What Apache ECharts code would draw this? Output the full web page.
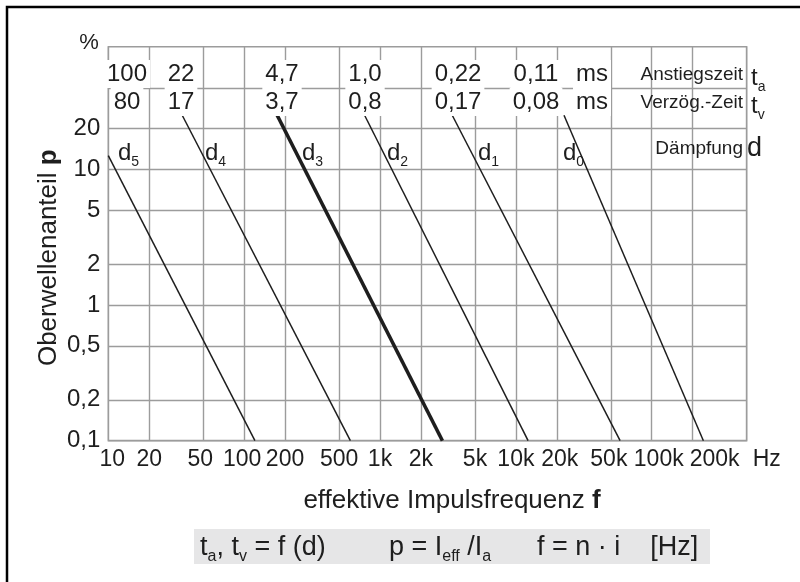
<!DOCTYPE html>
<html>
<head>
    <meta charset="utf-8">
    <title>Oberwellenanteil</title>
    <script src="https://cdn.jsdelivr.net/npm/echarts@6/dist/echarts.min.js"></script>
</head>
<body style="margin:0">
<div id="main" style="width:800px; height:582px;"></div>
<script type="text/javascript">
    // Frequenzachse (Hz) und Beschriftung
    var xTicks = [10, 20, 50, 100, 200, 500, 1000, 2000, 5000, 10000, 20000, 50000, 100000, 200000, 500000];
    var xTickLabels = ['10', '20', '50', '100', '200', '500', '1k', '2k', '5k', '10k', '20k', '50k', '100k', '200k', 'Hz'];
    // Oberwellenanteil (%)
    var yTicks = [0.1, 0.2, 0.5, 1, 2, 5, 10, 20];
    var yTickLabels = ['0,1', '0,2', '0,5', '1', '2', '5', '10', '20'];
    var yMax = 80;
    var tableRowLine = 39.5;   // Trennlinie zwischen t_a und t_v

    // Kennlinien d5 ... d0 (Anfangs- und Endpunkt, log-log Gerade)
    var d5F = [10, 120],     d5P = [12.6, 0.1];
    var d4F = [35, 605],     d4P = [25, 0.1];
    var d3F = [175, 2880],   d3P = [25, 0.1];
    var d2F = [770, 12300],  d2P = [25, 0.1];
    var d1F = [3400, 58500], d1P = [25, 0.1];
    var d0F = [22600, 240000], d0P = [25, 0.1];

    // Tabelle oben
    var riseTimes = ['100', '22', '4,7', '1,0', '0,22', '0,11', 'ms'];
    var delayTimes = ['80', '17', '3,7', '0,8', '0,17', '0,08', 'ms'];
    var dampNames = ['5', '4', '3', '2', '1', '0'];

    var FONT = '"Liberation Sans", Arial, sans-serif';
    var GRID = '#9c9c9c';
    var INK = '#1e1e1e';

    function lg(v) { return Math.log10(v); }
    function pts(f, p) {
        return f.map(function (v, i) { return [lg(v), lg(p[i])]; });
    }
    function findIdx(arr, v) {
        for (var i = 0; i < arr.length; i++) {
            if (Math.abs(lg(arr[i]) - v) < 1e-6) return i;
        }
        return -1;
    }

    // kleine Verschiebungen einzelner x-Beschriftungen (wie im Original)
    var xShift = {'10': 4, '50': -3, '100': -2, '20k': 3, '50k': -2, '100k': 7, '200k': 22, 'Hz': 20};
    function shiftKey(s) { return 's' + (s < 0 ? 'm' + (-s) : s); }
    var xRich = {};
    Object.keys(xShift).forEach(function (k) {
        var s = xShift[k];
        xRich[shiftKey(s)] = {padding: s > 0 ? [0, 0, 0, 2 * s] : [0, -2 * s, 0, 0]};
    });

    var curves = [
        {name: 'd5', f: d5F, p: d5P, w: 1.5},
        {name: 'd4', f: d4F, p: d4P, w: 1.5},
        {name: 'd3', f: d3F, p: d3P, w: 3.6},
        {name: 'd2', f: d2F, p: d2P, w: 1.5},
        {name: 'd1', f: d1F, p: d1P, w: 1.5},
        {name: 'd0', f: d0F, p: d0P, w: 1.5}
    ];

    // Texte
    var tableX = [127, 181, 282, 365, 458, 536, 592];
    var dLabelX = [118, 205, 302, 387, 478, 563];
    var graphics = [];

    graphics.push({
        type: 'rect', silent: true,
        shape: {x: 7, y: 7, width: 830, height: 630},
        style: {fill: 'none', stroke: '#000', lineWidth: 2.5}
    });
    graphics.push({
        type: 'text', x: 89, y: 43,
        style: {text: '%', font: '22px ' + FONT, fill: INK, align: 'center', verticalAlign: 'middle'}
    });

    function cell(txt, x, y) {
        return {
            type: 'text', x: x, y: y, z: 100,
            style: {
                text: txt, font: '24px ' + FONT, fill: INK,
                align: 'center', verticalAlign: 'middle',
                backgroundColor: '#fff', padding: [2, 3, 2, 3], lineHeight: 24
            }
        };
    }
    riseTimes.forEach(function (t, i) { graphics.push(cell(t, tableX[i], 74)); });
    delayTimes.forEach(function (t, i) { graphics.push(cell(t, tableX[i], 102)); });

    var subRich = {
        m: {fontSize: 24, lineHeight: 32, fontFamily: FONT, fill: INK, verticalAlign: 'middle'},
        b: {fontSize: 27, lineHeight: 32, fontFamily: FONT, fill: INK, verticalAlign: 'middle'},
        s: {fontSize: 14, lineHeight: 14, fontFamily: FONT, fill: INK, verticalAlign: 'bottom'}
    };
    function label(x, y, txt, align, font) {
        return {
            type: 'text', x: x, y: y, z: 100,
            style: {text: txt, font: font || ('19px ' + FONT), fill: INK, align: align || 'left', verticalAlign: 'middle', rich: subRich}
        };
    }
    graphics.push(label(743, 75, 'Anstiegszeit', 'right'));
    graphics.push(label(743, 103, 'Verzög.-Zeit', 'right'));
    graphics.push(label(743, 149, 'Dämpfung', 'right'));
    graphics.push(label(751, 78, '{m|t}{s|a}'));
    graphics.push(label(751, 106, '{m|t}{s|v}'));
    graphics.push(label(747, 149, '{b|d}'));
    dampNames.forEach(function (n, i) {
        graphics.push(label(dLabelX[i], 153, '{m|d}{s|' + n + '}'));
    });

    // Formelkasten
    graphics.push({
        type: 'rect', silent: true,
        shape: {x: 194, y: 529, width: 516, height: 35},
        style: {fill: '#e6e6e7'}
    });
    var fRich = {
        m: {fontSize: 27, lineHeight: 34, fontFamily: FONT, fill: INK, verticalAlign: 'middle'},
        s: {fontSize: 16, lineHeight: 16, fontFamily: FONT, fill: INK, verticalAlign: 'bottom'}
    };
    [
        [200, '{m|t}{s|a}{m|, t}{s|v}{m| = f (d)}'],
        [389, '{m|p = I}{s|eff}{m| /I}{s|a}'],
        [537, '{m|f = n · i    [Hz]}']
    ].forEach(function (f) {
        graphics.push({
            type: 'text', x: f[0], y: 548, z: 100,
            style: {text: f[1], fill: INK, align: 'left', verticalAlign: 'middle', rich: fRich}
        });
    });

    var myChart = echarts.init(document.getElementById('main'));
    var option = {
        animation: false,
        backgroundColor: '#fff',
        grid: {
            left: 108.3, right: 53.3, top: 46.7, bottom: 141.3,
            show: true, borderColor: GRID, borderWidth: 1.4
        },
        xAxis: {
            type: 'value',
            min: lg(xTicks[0]),
            max: lg(xTicks[xTicks.length - 1]),
            name: 'effektive Impulsfrequenz {b|f}',
            nameLocation: 'middle',
            nameGap: 47,
            nameMoveOverlap: false,
            nameTextStyle: {
                fontFamily: FONT, fontSize: 26, color: INK, padding: [0, 0, 0, 49],
                rich: {b: {fontFamily: FONT, fontSize: 26, fontWeight: 'bold', color: INK}}
            },
            axisLine: {show: false},
            axisTick: {show: false, customValues: xTicks.map(lg)},
            splitLine: {show: true, lineStyle: {color: GRID, width: 1.4}},
            axisLabel: {
                customValues: xTicks.map(lg),
                margin: 7,
                fontFamily: FONT, fontSize: 23, color: INK,
                rich: xRich,
                formatter: function (v) {
                    var i = findIdx(xTicks, v);
                    if (i < 0) return '';
                    var t = xTickLabels[i];
                    return xShift[t] ? '{' + shiftKey(xShift[t]) + '|' + t + '}' : t;
                }
            }
        },
        yAxis: {
            type: 'value',
            min: lg(yTicks[0]),
            max: lg(yMax),
            name: 'Oberwellenanteil {b|p}',
            nameLocation: 'middle',
            nameGap: 46,
            nameMoveOverlap: false,
            nameTextStyle: {
                fontFamily: FONT, fontSize: 26, color: INK, padding: [0, 28, 0, 0],
                rich: {b: {fontFamily: FONT, fontSize: 26, fontWeight: 'bold', color: INK}}
            },
            axisLine: {show: false},
            axisTick: {show: false, customValues: yTicks.concat([tableRowLine]).map(lg)},
            splitLine: {show: true, lineStyle: {color: GRID, width: 1.4}},
            axisLabel: {
                customValues: yTicks.map(lg),
                margin: 8,
                fontFamily: FONT, fontSize: 24, color: INK,
                formatter: function (v) {
                    var i = findIdx(yTicks, v);
                    return i < 0 ? '' : yTickLabels[i];
                }
            }
        },
        series: curves.map(function (c) {
            return {
                name: c.name,
                type: 'line',
                showSymbol: false,
                silent: true,
                data: pts(c.f, c.p),
                lineStyle: {color: INK, width: c.w}
            };
        }),
        graphic: graphics
    };
    myChart.setOption(option);
</script>
</body>
</html>
